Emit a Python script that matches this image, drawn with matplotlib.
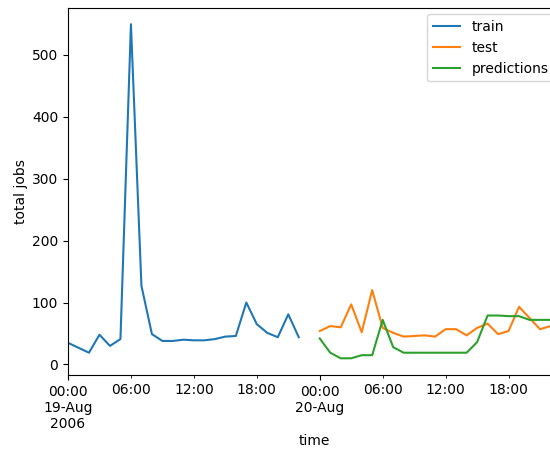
import matplotlib
matplotlib.use("Agg")
import matplotlib.pyplot as plt
import matplotlib.dates as mdates
import pandas as pd

# Hourly job counts
train_start = "2006-08-19 00:00"
test_start = "2006-08-20 00:00"

train_jobs = [35, 27, 19, 48, 30, 41, 549, 127, 49, 38, 38, 40, 39, 39, 41, 45,
              46, 100, 65, 51, 44, 81, 44]
test_jobs = [54, 62, 60, 97, 52, 120, 59, 51, 45, 46, 47, 45, 57, 57, 47, 59,
             66, 49, 54, 93, 75, 57, 62, 60]
predicted_jobs = [42, 19, 10, 10, 15, 15, 72, 28, 19, 19, 19, 19, 19, 19, 19, 36,
                  79, 79, 78, 78, 72, 72, 72, 72]

train_time = pd.date_range(train_start, periods=len(train_jobs), freq="h")
test_time = pd.date_range(test_start, periods=len(test_jobs), freq="h")

fig = plt.figure(figsize=(5.5, 4.5), dpi=100)
ax = fig.add_axes([68 / 550, 75 / 450, (561 - 68) / 550, (375 - 7.5) / 450])

ax.plot(train_time, train_jobs, color="#1f77b4", label="train")
ax.plot(test_time, test_jobs, color="#ff7f0e", label="test")
ax.plot(test_time, predicted_jobs, color="#2ca02c", label="predictions")

ax.set_xlim(train_time[0], test_time[-1])
ax.margins(y=0.05)

# Day ticks carry the date, 6-hourly minor ticks carry the time only
ax.xaxis.set_major_locator(mdates.DayLocator())
ax.xaxis.set_minor_locator(mdates.HourLocator(byhour=[6, 12, 18]))


def day_label(x, pos):
    d = mdates.num2date(x)
    if pos == 0:
        return d.strftime("%H:%M\n%d-%b\n%Y")
    return d.strftime("%H:%M\n%d-%b")


ax.xaxis.set_major_formatter(plt.FuncFormatter(day_label))
ax.xaxis.set_minor_formatter(mdates.DateFormatter("%H:%M"))
ax.tick_params(axis="x", which="major", length=3.5)
ax.tick_params(axis="x", which="minor", length=2)

ax.set_xlabel("time", labelpad=2)
ax.set_ylabel("total jobs", labelpad=3)
ax.legend(loc="upper right")

fig.savefig("out.png", dpi=100)
